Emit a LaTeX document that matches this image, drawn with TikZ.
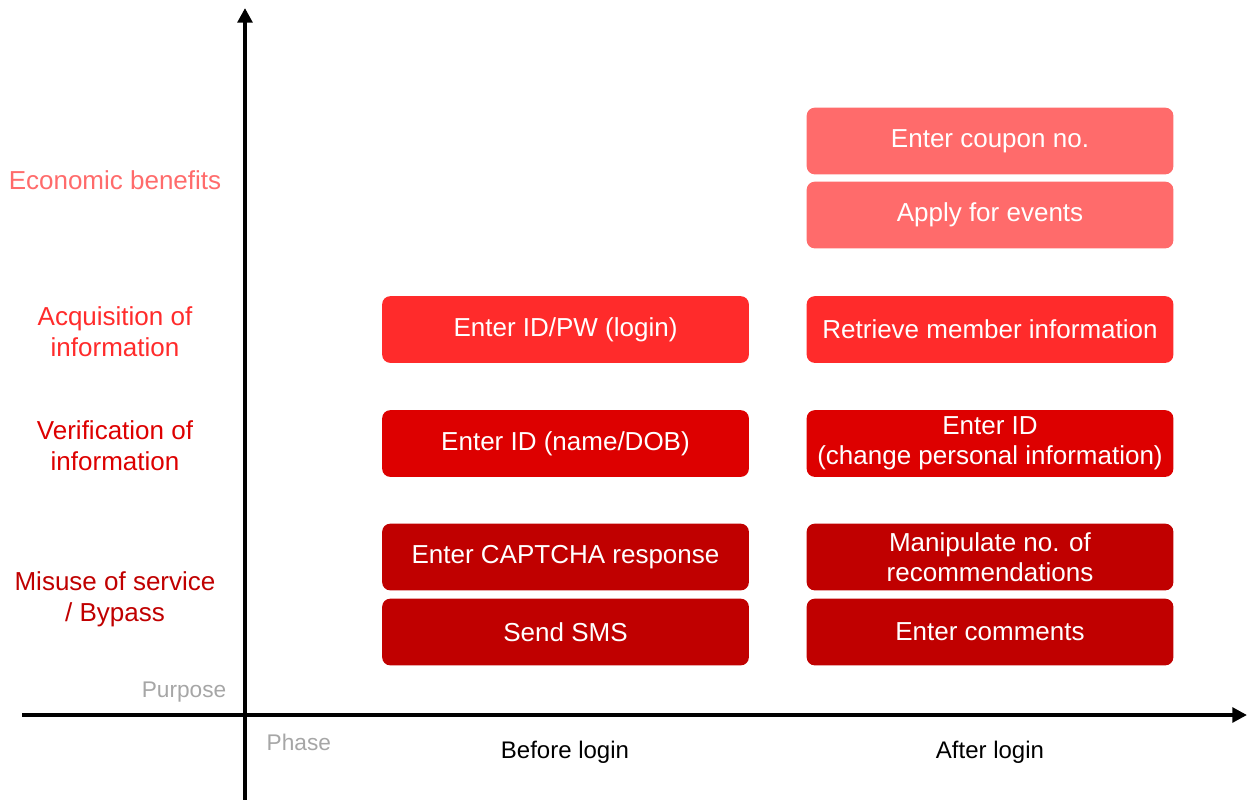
\documentclass[tikz,border=0pt]{standalone}
\usepackage{fontspec}
\setmainfont{Liberation Sans}
\usetikzlibrary{arrows.meta}

\definecolor{econ}{HTML}{FF6B6B}
\definecolor{acq}{HTML}{FF2B2B}
\definecolor{veri}{HTML}{DD0000}
\definecolor{misuse}{HTML}{C00000}
\definecolor{axislbl}{HTML}{A6A6A6}

\begin{document}
\begin{tikzpicture}[x=0.75pt,y=-0.75pt,
    box/.style={fill=#1, rounded corners=6pt, minimum width=275pt,
      minimum height=50pt, text=white, align=center, inner sep=0pt,
      font=\fontsize{19.5}{22.5}\selectfont},
    purpose/.style={text=#1, align=center, font=\fontsize{19.5}{23}\selectfont},
    axis/.style={line width=3pt, -{Triangle[length=11pt,width=11pt]}}]
  \useasboundingbox (0,0) rectangle (1247,800);

  % axes
  \coordinate (ybot) at (245,800);
  \coordinate (ytop) at (245,8);
  \coordinate (xleft) at (22,715);
  \coordinate (xright) at (1247,715);
  \draw[axis] (xleft) -- (xright);
  \draw[axis] (ybot) -- (ytop);

  % purpose labels
  \node[purpose=econ]   (leco) at (115,180) {Economic benefits};
  \node[purpose=acq]    (lacq) at (115,332) {Acquisition of\\information};
  \node[purpose=veri]   (lver) at (115,446) {Verification of\\information};
  \node[purpose=misuse] (lmis) at (115,599) {Misuse of service\\/ Bypass};

  \node[text=axislbl, anchor=east, font=\fontsize{17}{20}\selectfont] (purp) at (231,692) {Purpose};
  \node[text=axislbl, anchor=west, font=\fontsize{17}{20}\selectfont] (phase) at (262,742) {Phase};

  % before login
  \node[box=acq]    (idpw)    at (565.5,329.5) {Enter ID/PW (login)};
  \node[box=veri]   (idname)  at (565.5,443.5) {Enter ID (name/DOB)};
  \node[box=misuse] (captcha) at (565.5,557)   {Enter CAPTCHA response};
  \node[box=misuse] (sms)     at (565.5,632)   {Send SMS};

  % after login
  \node[box=econ]   (coupon)  at (990,141)   {Enter coupon no.};
  \node[box=econ]   (events)  at (990,215)   {Apply for events};
  \node[box=acq]    (member)  at (990,329.5) {Retrieve member information};
  \node[box=veri]   (change)  at (990,443.5) {Enter ID\\(change personal information)};
  \node[box=misuse] (recomm)  at (990,557)   {Manipulate no. of\\recommendations};
  \node[box=misuse] (comment) at (990,632)   {Enter comments};

  \node[font=\fontsize{18}{21}\selectfont] (before) at (565,752) {Before login};
  \node[font=\fontsize{18}{21}\selectfont] (after)  at (990,752) {After login};
\end{tikzpicture}
\end{document}
